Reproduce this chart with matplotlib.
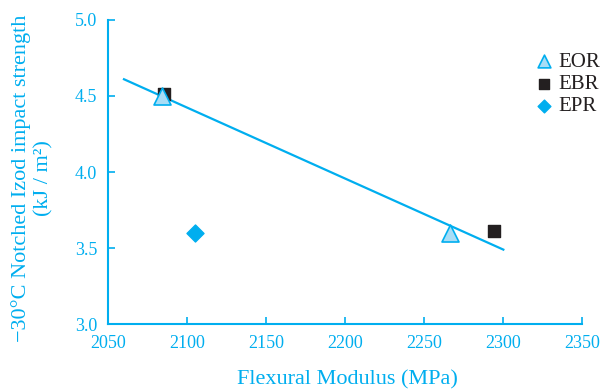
import matplotlib
matplotlib.use("Agg")
import matplotlib.pyplot as plt

# Data
eor_x = [2084, 2266]
eor_y = [4.50, 3.60]
ebr_x = [2085, 2294]
ebr_y = [4.51, 3.61]
epr_x = [2105]
epr_y = [3.60]
fit_x = [2060, 2300]
fit_y = [4.61, 3.49]
xticks = [2050, 2100, 2150, 2200, 2250, 2300, 2350]
yticks = [3.0, 3.5, 4.0, 4.5, 5.0]

CYAN = "#00aeef"
LIGHT = "#a8ddf6"
DARK = "#231f20"

plt.rcParams['font.family'] = ['Liberation Serif', 'DejaVu Serif']
fig = plt.figure(figsize=(6.01, 3.91), dpi=100)
ax = fig.add_axes([0.18, 0.171, 0.789, 0.778])

ax.plot(fit_x, fit_y, color=CYAN, lw=1.6, zorder=2)
ax.scatter(ebr_x, ebr_y, marker='s', s=80, color=DARK, label='EBR', zorder=3)
ax.scatter(eor_x, eor_y, marker='^', s=150, facecolor=LIGHT, edgecolor=CYAN, linewidth=1.2, label='EOR', zorder=4)
ax.scatter(epr_x, epr_y, marker='D', s=75, color=CYAN, label='EPR', zorder=3)

ax.set_xlim(2050, 2350)
ax.set_ylim(3.0, 5.0)
ax.set_xticks(xticks)
ax.set_yticks(yticks)
ax.set_yticklabels([f"{v:.1f}" for v in yticks])
for s in ['top', 'right']:
    ax.spines[s].set_visible(False)
for s in ['left', 'bottom']:
    ax.spines[s].set_color(CYAN)
    ax.spines[s].set_linewidth(1.5)
ax.tick_params(direction='in', colors=CYAN, labelcolor=CYAN, labelsize=13, length=5, width=1.2)
ax.tick_params(axis='x', pad=8)
ax.tick_params(axis='y', pad=8)

fig.text(347/601, 1 - 380/391, "Flexural Modulus (MPa)", color=CYAN, fontsize=16,
         ha='center', va='center')
fig.text(32/601, 1 - 178/391, "\u221230\u00b0C Notched Izod impact strength\n(kJ / m\u00b2)",
         color=CYAN, fontsize=16, rotation=90, ha='center', va='center',
         multialignment='center', linespacing=1.2)

handles, labels = ax.get_legend_handles_labels()
order = [labels.index('EOR'), labels.index('EBR'), labels.index('EPR')]
leg = ax.legend([handles[i] for i in order], [labels[i] for i in order],
                loc='upper right', bbox_to_anchor=(1.077, 0.955), frameon=False,
                fontsize=15, handlelength=1.0, handletextpad=0.2, labelspacing=0.12,
                markerscale=0.75)
for t in leg.get_texts():
    t.set_color(DARK)

fig.savefig("out.png", dpi=100)
